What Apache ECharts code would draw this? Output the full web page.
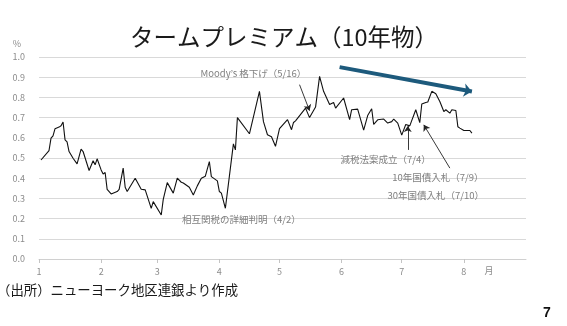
<!DOCTYPE html>
<html>
<head>
<meta charset="utf-8">
<script src="https://cdn.jsdelivr.net/npm/echarts@6/dist/echarts.min.js"></script>
<style>
html,body{margin:0;padding:0;background:#fff;}
#c{width:567px;height:326px;}
</style>
</head>
<body>
<div id="c"></div>
<script>
// ---- data ----
const year = 2025;
const dates = ['01-02','01-06','01-07','01-08','01-09','01-11','01-12','01-13','01-14','01-15',
  '01-16','01-18','01-20','01-22','01-23','01-26','01-28','01-29','01-30','02-01',
  '02-02','02-03','02-04','02-06','02-09','02-10','02-12','02-13','02-14','02-18',
  '02-21','02-23','02-26','02-27','03-03','03-04','03-06','03-09','03-11','03-13',
  '03-14','03-17','03-19','03-21','03-23','03-25','03-27','03-28','03-31','04-01',
  '04-02','04-04','04-06','04-08','04-09','04-10','04-16','04-21','04-23','04-25',
  '04-27','04-29','05-01','05-05','05-07','05-08','05-09','05-14','05-16','05-19',
  '05-21','05-23','05-26','05-28','05-29','06-02','06-05','06-06','06-09','06-12',
  '06-14','06-16','06-17','06-19','06-22','06-24','06-26','06-27','06-29','07-01',
  '07-03','07-05','07-08','07-10','07-11','07-13','07-14','07-16','07-18','07-20',
  '07-22','07-23','07-25','07-26','07-28','07-29','07-30','08-01','08-04','08-05'];
const termPremium = [0.49,0.537,0.598,0.61,0.645,0.653,0.66,0.678,0.59,0.58,
  0.532,0.499,0.471,0.544,0.532,0.438,0.486,0.466,0.496,0.441,
  0.421,0.428,0.345,0.322,0.334,0.345,0.45,0.355,0.334,0.40,
  0.345,0.342,0.251,0.284,0.218,0.295,0.378,0.326,0.40,0.38,
  0.376,0.355,0.317,0.362,0.40,0.41,0.482,0.408,0.387,0.334,
  0.326,0.251,0.41,0.57,0.54,0.70,0.62,0.83,0.68,0.615,
  0.605,0.558,0.645,0.69,0.64,0.676,0.684,0.747,0.70,0.752,
  0.904,0.83,0.765,0.775,0.747,0.797,0.69,0.739,0.742,0.638,
  0.71,0.744,0.666,0.689,0.693,0.673,0.68,0.693,0.673,0.613,
  0.666,0.659,0.739,0.675,0.767,0.775,0.777,0.83,0.818,0.78,
  0.73,0.739,0.722,0.739,0.735,0.655,0.648,0.636,0.636,0.623];
const monthStartDates = ['01-01','02-01','03-01','04-01','05-01','06-01','07-01','08-01'];
const monthLabels = ['1','2','3','4','5','6','7','8'];
const axisEndDate = '09-01';
const yTicks = ['0.0','0.1','0.2','0.3','0.4','0.5','0.6','0.7','0.8','0.9','1.0'];

// annotations: [text, date, value]
const notes = [
  ['Moody’s 格下げ（5/16）', '04-18', 0.917],
  ['相互関税の詳細判明（4/2）', '04-12', 0.198],
  ['減税法案成立（7/4）', '06-23', 0.494],
  ['10年国債入札（7/9）', '07-19', 0.405],
  ['30年国債入札（7/10）', '07-18', 0.317]
];
// arrows: [fromDate, fromValue, toDate, toValue]
const thinArrows = [
  ['05-11', 0.863, '05-16', 0.734],
  ['07-04', 0.540, '07-04', 0.659],
  ['07-25', 0.450, '07-12', 0.664]
];
const trendArrow = ['05-31', 0.950, '08-05', 0.829];

// ---- helpers ----
function dayOf(md){
  const [m,d] = md.split('-').map(Number);
  return (Date.UTC(year,m-1,d) - Date.UTC(year,0,1)) / 86400000;
}
const monthStarts = monthStartDates.map(dayOf);
const seriesData = dates.map((d,i)=>[dayOf(d), termPremium[i]]);

const chart = echarts.init(document.getElementById('c'), null, {renderer:'canvas'});
const gray = '#8c8c8c';
const noteFont = '"Noto Sans CJK JP","Noto Sans",sans-serif';

chart.setOption({
  animation:false,
  backgroundColor:'#fff',
  grid:{left:39, right:41, top:57, bottom:67, containLabel:false},
  xAxis:{
    type:'value', min:0, max:dayOf(axisEndDate),
    axisLine:{show:true, lineStyle:{color:'#d0d0d0', width:1}},
    axisTick:{show:true, customValues:monthStarts, length:4, lineStyle:{color:'#c4c4c4'}},
    axisLabel:{show:true, customValues:monthStarts, color:gray, fontSize:9, margin:8,
      fontFamily:'"Noto Sans CJK JP",sans-serif',
      formatter:v=>{const i=monthStarts.indexOf(v); return i>=0?monthLabels[i]:'';}},
    splitLine:{show:false}
  },
  yAxis:{
    type:'value', min:0, max:1.0, interval:0.1,
    axisLine:{show:false}, axisTick:{show:false},
    axisLabel:{color:gray, fontSize:9, margin:14, fontFamily:'"Noto Sans CJK JP",sans-serif',
      formatter:v=>yTicks[Math.round(v*10)]},
    splitLine:{show:true, lineStyle:{color:'#d9d9d9', width:1}}
  },
  series:[{
    type:'line', data:seriesData, showSymbol:false, symbol:'none',
    lineStyle:{color:'#111', width:1.1}, silent:true,
    markLine:{
      silent:true, symbol:['none','arrow'], symbolSize:6,
      label:{show:false},
      lineStyle:{color:'#222', width:0.9, type:'solid'},
      data: thinArrows.map(a=>[{coord:[dayOf(a[0]),a[1]]},{coord:[dayOf(a[2]),a[3]]}]).concat([
        [{coord:[dayOf(trendArrow[0]),trendArrow[1]], lineStyle:{color:'#1d5a7c', width:4}, symbol:'none'},
         {coord:[dayOf(trendArrow[2]),trendArrow[3]], symbol:'arrow', symbolSize:[10,8]}]
      ])
    },
    markPoint:{
      silent:true, symbol:'circle', symbolSize:0,
      data: notes.map(n=>({coord:[dayOf(n[1]), n[2]], value:n[0],
        label:{show:true, position:'inside', formatter:n[0], color:'#808080', fontSize:9.5, fontFamily:noteFont}}))
    }
  }],
  graphic:[
    {type:'text', x:284, y:37, style:{text:'タームプレミアム（10年物）', fill:'#1a1a1a',
      font:'23.5px "Noto Sans CJK JP", sans-serif', textAlign:'center', textVerticalAlign:'middle'}},
    {type:'text', x:17, y:44, style:{text:'%', fill:gray, font:'9px "Noto Sans CJK JP", sans-serif',
      textAlign:'center', textVerticalAlign:'middle'}},
    {type:'text', x:489, y:271, style:{text:'月', fill:gray, font:'9px "Noto Sans CJK JP", sans-serif',
      textAlign:'center', textVerticalAlign:'middle'}},
    {type:'text', x:-3, y:290, style:{text:'（出所）ニューヨーク地区連銀より作成', fill:'#1a1a1a',
      font:'13.4px "Noto Sans CJK JP", sans-serif', textAlign:'left', textVerticalAlign:'middle'}},
    {type:'text', x:547, y:313, style:{text:'7', fill:'#111', font:'bold 14px "Liberation Sans", Arial, sans-serif',
      textAlign:'center', textVerticalAlign:'middle'}}
  ]
});
</script>
</body>
</html>
